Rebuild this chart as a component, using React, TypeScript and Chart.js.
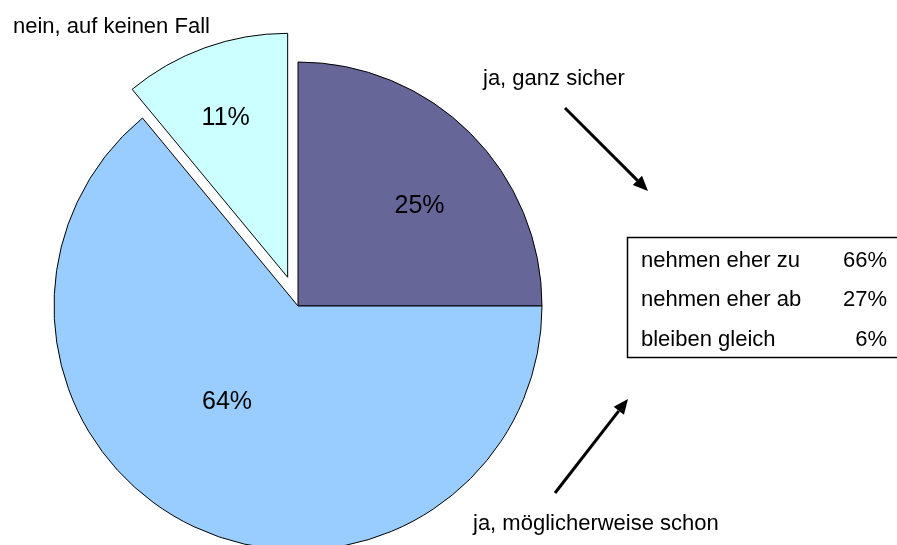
import React, { useEffect, useRef } from "react";
import { Chart, registerables } from "chart.js";

Chart.register(...registerables);

// ---- data ----
const categories = ["ja, ganz sicher", "ja, möglicherweise schon", "nein, auf keinen Fall"];
const shares = [25, 64, 11];
const sliceColors = ["#666699", "#99CCFF", "#CCFFFF"];
const tableLabels = ["nehmen eher zu", "nehmen eher ab", "bleiben gleich"];
const tableValues = ["66%", "27%", "6%"];

// ---- layout ----
const W = 897;
const H = 545;
const RADIUS = 244;
const EXPLODE = [0, 0, 30.5];
// baseline offsets of the percentage labels relative to each slice apex
const PCT_OFFSETS: [number, number][] = [
  [121.5, -93],
  [-71, 103],
  [-62, -152.5],
];
const CAT_POS: { x: number; y: number }[] = [
  { x: 483, y: 85 },
  { x: 473, y: 530 },
  { x: 13, y: 33 },
];
const ARROWS: [number, number, number, number][] = [
  [565, 108, 648, 191],
  [555, 493, 628, 399],
];
const FONT = "'Liberation Sans', Arial, Helvetica, sans-serif";

function drawArrow(ctx: CanvasRenderingContext2D, x1: number, y1: number, x2: number, y2: number) {
  const ang = Math.atan2(y2 - y1, x2 - x1);
  const len = 15;
  const hw = 6.5;
  const bx = x2 - Math.cos(ang) * len;
  const by = y2 - Math.sin(ang) * len;
  ctx.save();
  ctx.strokeStyle = "#000";
  ctx.fillStyle = "#000";
  ctx.lineWidth = 3;
  ctx.beginPath();
  ctx.moveTo(x1, y1);
  ctx.lineTo(bx, by);
  ctx.stroke();
  ctx.beginPath();
  ctx.moveTo(x2, y2);
  ctx.lineTo(bx + Math.sin(ang) * hw, by - Math.cos(ang) * hw);
  ctx.lineTo(bx - Math.sin(ang) * hw, by + Math.cos(ang) * hw);
  ctx.closePath();
  ctx.fill();
  ctx.restore();
}

const explodePlugin = {
  id: "explodeSlices",
  afterDatasetUpdate(chart: any, args: any) {
    const meta = chart.getDatasetMeta(args.index);
    meta.data.forEach((arc: any, i: number) => {
      const d = EXPLODE[i] || 0;
      if (!d) return;
      const mid = (arc.startAngle + arc.endAngle) / 2;
      arc.x += Math.cos(mid) * d;
      arc.y += Math.sin(mid) * d;
    });
  },
};

const overlayPlugin = {
  id: "overlay",
  afterDatasetsDraw(chart: any) {
    const ctx: CanvasRenderingContext2D = chart.ctx;
    const meta = chart.getDatasetMeta(0);
    ctx.save();
    ctx.fillStyle = "#000";
    // percentage labels inside slices
    ctx.font = `25px ${FONT}`;
    ctx.textAlign = "center";
    ctx.textBaseline = "alphabetic";
    meta.data.forEach((arc: any, i: number) => {
      const [dx, dy] = PCT_OFFSETS[i];
      ctx.fillText(`${shares[i]}%`, arc.x + dx, arc.y + dy);
    });
    // category labels
    ctx.font = `22px ${FONT}`;
    ctx.textAlign = "left";
    categories.forEach((c, i) => {
      ctx.fillText(c, CAT_POS[i].x, CAT_POS[i].y);
    });
    // arrows
    ARROWS.forEach(([a, b, c, d]) => drawArrow(ctx, a, b, c, d));
    // table box
    ctx.lineWidth = 1.5;
    ctx.strokeStyle = "#000";
    ctx.strokeRect(627.5, 237.5, 300, 120);
    ctx.font = `22px ${FONT}`;
    tableLabels.forEach((lab, i) => {
      const y = 266.5 + i * 39.5;
      ctx.textAlign = "left";
      ctx.fillText(lab, 641, y);
      ctx.textAlign = "right";
      ctx.fillText(tableValues[i], 887, y);
    });
    ctx.restore();
  },
};

export default function App() {
  const ref = useRef<HTMLCanvasElement | null>(null);
  useEffect(() => {
    if (!ref.current) return;
    const chart = new Chart(ref.current, {
      type: "pie",
      data: {
        labels: categories,
        datasets: [
          {
            data: shares,
            backgroundColor: sliceColors,
            borderColor: "#000",
            borderWidth: 1,
            borderJoinStyle: "miter",
            borderAlign: "center",
            clip: false,
            radius: RADIUS,
          } as any,
        ],
      },
      options: {
        responsive: false,
        animation: false,
        devicePixelRatio: 1,
        layout: { padding: { left: 0, right: 301, top: 67, bottom: 0 } },
        plugins: {
          legend: { display: false },
          tooltip: { enabled: false },
        },
        events: [],
      } as any,
      plugins: [explodePlugin, overlayPlugin],
    });
    return () => chart.destroy();
  }, []);
  return (
    <div style={{ position: "fixed", left: 0, top: 0, width: W, height: H, background: "#fff" }}>
      <canvas ref={ref} width={W} height={H} style={{ display: "block" }} />
    </div>
  );
}
